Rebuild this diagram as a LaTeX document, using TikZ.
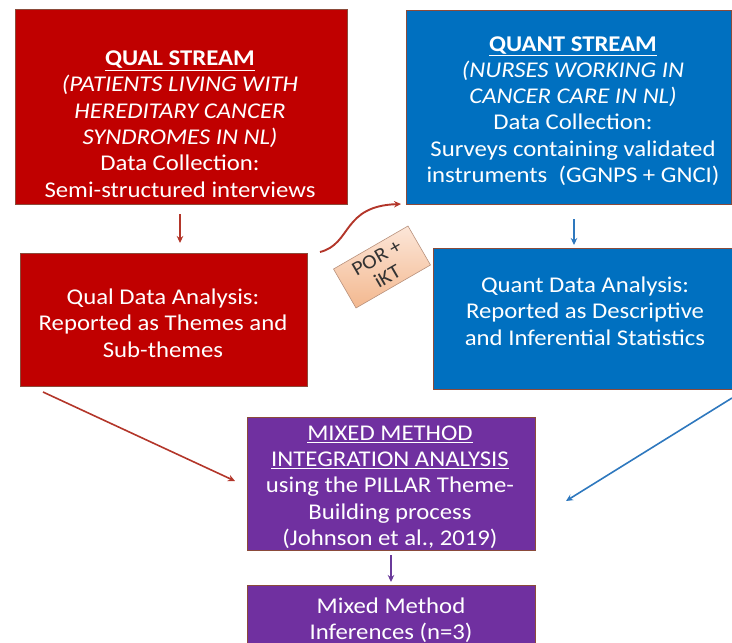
\documentclass[tikz,border=0pt]{standalone}
\usepackage{fontspec}
\setmainfont{Carlito}[FakeStretch=1.1]
\usetikzlibrary{arrows.meta}
\definecolor{qred}{HTML}{C00000}
\definecolor{qblue}{HTML}{0070C0}
\definecolor{qpurple}{HTML}{7030A0}
\definecolor{edge}{HTML}{8B4A3A}
\definecolor{ared}{HTML}{B3362A}
\definecolor{ablue}{HTML}{2E78BE}
\definecolor{apurple}{HTML}{6A3A9A}
\definecolor{peachA}{HTML}{FCE6D8}
\definecolor{peachB}{HTML}{F3B88F}
\definecolor{porEdge}{HTML}{B8917C}
\begin{document}
\begin{tikzpicture}[x=1pt,y=-1pt,
  box/.style={rectangle, draw=edge, line width=0.7pt, inner sep=0pt},
  txt/.style={text=white, align=center, inner sep=0pt,
    font=\fontsize{22.5}{26.3}\selectfont},
  arr/.style={line width=1.6pt, -{Stealth[length=7pt,width=6.5pt]}},
  porbox/.style={rectangle, draw=porEdge, line width=0.6pt,
    top color=peachA, bottom color=peachB, inner sep=0pt,
    minimum width=86pt, minimum height=45pt, align=center,
    text=black!80, font=\fontsize{20}{21.5}\selectfont}
]
\useasboundingbox (0,0) rectangle (732,643);
% boxes
\node[box, fill=qred, minimum width=332pt, minimum height=195pt] (qual) at (181,106.5) {};
\node[box, fill=qblue, minimum width=325pt, minimum height=194pt] (quant) at (568.5,107) {};
\node[box, fill=qred, minimum width=287pt, minimum height=133pt] (qualA) at (163.5,319.5) {};
\node[box, fill=qblue, minimum width=300pt, minimum height=141pt] (quantA) at (583,318.5) {};
\node[box, fill=qpurple, minimum width=288pt, minimum height=133pt] (mix) at (391,483.5) {};
\node[box, fill=qpurple, minimum width=288pt, minimum height=62pt] (inf) at (391,616) {};
% texts
\node[txt] (qualT) at (180,124) {\textbf{\underline{QUAL STREAM}}\\
  \textit{(PATIENTS LIVING WITH}\\ \textit{HEREDITARY CANCER}\\ \textit{SYNDROMES IN NL)}\\
  Data Collection:\\ Semi-structured interviews};
\node[txt] (quantT) at (573,111) {\textbf{\underline{QUANT STREAM}}\\
  \textit{(NURSES WORKING IN}\\ \textit{CANCER CARE IN NL)}\\
  Data Collection:\\ Surveys containing validated\\ instruments~~(GGNPS + GNCI)};
\node[txt] (qualAT) at (163,323) {Qual Data Analysis:\\ Reported as Themes and\\ Sub-themes};
\node[txt] (quantAT) at (585,311) {Quant Data Analysis:\\ Reported as Descriptive\\ and Inferential Statistics};
\node[txt] (mixT) at (390,487) {\underline{MIXED METHOD}\\ \underline{INTEGRATION ANALYSIS}\\
  using the PILLAR Theme-\\ Building process\\ (Johnson et al., 2019)};
\node[txt] (infT) at (391,620) {Mixed Method\\ Inferences (n=3)};
% POR box
\node[porbox, rotate=30] (por) at (382,267) {POR +\\iKT};
% arrow end points
\coordinate (c1s) at (180,214);
\coordinate (c1e) at (180,243);
\coordinate (c2s) at (574,219);
\coordinate (c2e) at (574,245);
\coordinate (c3s) at (391,555);
\coordinate (c3e) at (391,582);
\coordinate (d1s) at (43,392);
\coordinate (d1e) at (235,481);
\coordinate (d2s) at (732,398);
\coordinate (d2e) at (566,501);
\coordinate (cs) at (320,252);
\coordinate (ce) at (401,204);
% arrows
\draw[arr, ared] (c1s) -- (c1e);
\draw[arr, ablue] (c2s) -- (c2e);
\draw[arr, apurple] (c3s) -- (c3e);
\draw[arr, ared] (d1s) -- (d1e);
\draw[arr, ablue] (d2s) -- (d2e);
\draw[arr, ared, line width=1.9pt] (cs) .. controls (352,244) and (342,206) .. (ce);
\end{tikzpicture}
\end{document}
